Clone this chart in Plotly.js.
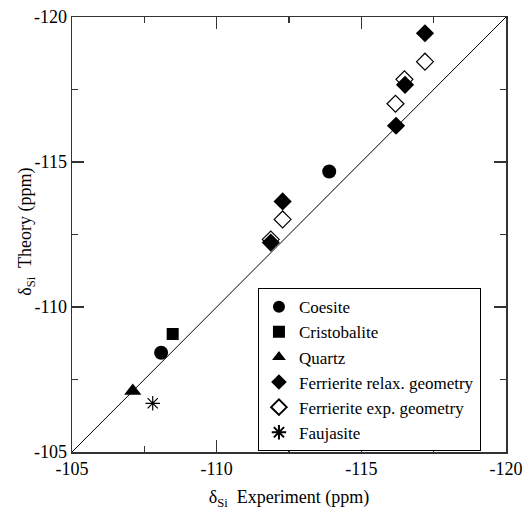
<!DOCTYPE html>
<html>
<head>
<meta charset="utf-8">
<script src="https://cdn.plot.ly/plotly-3.0.1.min.js"></script>
<style>html,body{margin:0;padding:0;background:#fff;}</style>
</head>
<body>
<div id="chart" style="width:523px;height:510px;"></div>
<script>
const coesiteX = [-108.08, -113.89];
const coesiteY = [-108.42, -114.67];
const cristobaliteX = [-108.48];
const cristobaliteY = [-109.07];
const quartzX = [-107.1];
const quartzY = [-107.1];
const ferrRelaxX = [-112.28, -111.87, -116.2, -116.51, -117.2];
const ferrRelaxY = [-113.64, -112.22, -116.25, -117.66, -119.44];
const ferrExpX = [-112.28, -111.87, -116.18, -116.49, -117.2];
const ferrExpY = [-113.02, -112.33, -117.01, -117.85, -118.46];
const faujasiteX = [-107.79];
const faujasiteY = [-106.68];
const diagX = [-105, -120];
const diagY = [-105, -120];
const tickValues = [-105, -110, -115, -120];
const tickLabels = ['-105', '-110', '-115', '-120'];

const font = 'Liberation Serif';
const traces = [
  {x: diagX, y: diagY, mode: 'lines', line: {color: '#000', width: 1}, showlegend: false, hoverinfo: 'skip'},
  {x: coesiteX, y: coesiteY, mode: 'markers', name: 'Coesite', marker: {symbol: 'circle', size: 14, color: '#000'}},
  {x: cristobaliteX, y: cristobaliteY, mode: 'markers', name: 'Cristobalite', marker: {symbol: 'square', size: 12, color: '#000'}},
  {x: quartzX, y: quartzY, mode: 'markers', name: 'Quartz', marker: {symbol: 'triangle-up', size: 15, color: '#000'}},
  {x: ferrRelaxX, y: ferrRelaxY, mode: 'markers', name: 'Ferrierite relax. geometry', marker: {symbol: 'diamond', size: 14, color: '#000'}},
  {x: ferrExpX, y: ferrExpY, mode: 'markers', name: 'Ferrierite exp. geometry', marker: {symbol: 'diamond-open', size: 13, color: '#000', line: {width: 1.2, color: '#000'}}},
  {x: faujasiteX, y: faujasiteY, mode: 'markers', name: 'Faujasite', marker: {symbol: 'asterisk-open', size: 12, color: '#000', line: {width: 1.2, color: '#000'}}}
];

const axisCommon = {
  range: [-105, -120],
  tickvals: tickValues,
  ticktext: tickLabels,
  ticks: 'inside', ticklen: 12, tickwidth: 1.5, tickcolor: '#333',
  minor: {dtick: 2.5, tick0: -105, ticks: 'inside', ticklen: 6, tickwidth: 1.5, tickcolor: '#333', showgrid: false},
  showline: true, linecolor: '#333', linewidth: 1.5, mirror: 'ticks',
  showgrid: false, zeroline: false,
  tickfont: {family: font, size: 18, color: '#000'}
};

const layout = {
  width: 523, height: 510,
  margin: {l: 72, r: 17, t: 17, b: 58},
  paper_bgcolor: '#fff', plot_bgcolor: '#fff',
  font: {family: font, color: '#000'},
  xaxis: Object.assign({}, axisCommon, {
    title: {text: 'δ<sub>Si</sub>  Experiment (ppm)', font: {family: font, size: 18}, standoff: 12}
  }),
  yaxis: Object.assign({}, axisCommon),
  annotations: [{
    text: 'δ<sub>Si</sub>  Theory (ppm)', textangle: -90,
    xref: 'paper', yref: 'paper', x: -0.104, y: 0.506,
    xanchor: 'center', yanchor: 'middle', showarrow: false,
    font: {family: font, size: 18, color: '#000'}
  }],
  legend: {
    x: 0.428, y: 0.377, xanchor: 'left', yanchor: 'top',
    bordercolor: '#000', borderwidth: 1.2, bgcolor: '#fff',
    font: {family: font, size: 17, color: '#000'},
    tracegroupgap: 0, itemsizing: 'constant'
  },
  showlegend: true
};

Plotly.newPlot('chart', traces, layout, {displayModeBar: false, staticPlot: true});
</script>
</body>
</html>
